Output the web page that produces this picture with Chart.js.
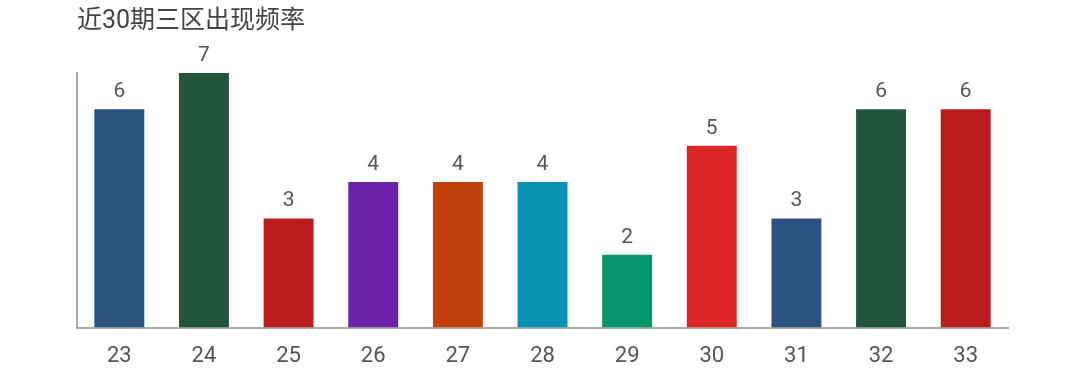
<!DOCTYPE html>
<html>
<head>
<meta charset="utf-8">
<script src="https://cdn.jsdelivr.net/npm/chart.js@4/dist/chart.umd.min.js"></script>
<style>
  html, body { margin: 0; padding: 0; background: #fff; }
  #wrap { width: 1091px; height: 392px; }
</style>
</head>
<body>
<div id="wrap"><canvas id="canvas"></canvas></div>
<script>
var numbers = ["23", "24", "25", "26", "27", "28", "29", "30", "31", "32", "33"];
var counts = [6, 7, 3, 4, 4, 4, 2, 5, 3, 6, 6];
var barColors = ["#2c5282", "#22543d", "#b91c1c", "#6b21a8", "#c2410c", "#0891b2",
                 "#059669", "#dc2626", "#2c5282", "#22543d", "#b91c1c"];

// draw the count above every bar
var valueLabels = {
    id: "valueLabels",
    afterDatasetsDraw: function (chart) {
        var ctx = chart.ctx;
        var meta = chart.getDatasetMeta(0);
        ctx.save();
        ctx.font = "21px Roboto, 'Noto Sans CJK SC'";
        ctx.fillStyle = "#555";
        ctx.textAlign = "center";
        ctx.textBaseline = "alphabetic";
        meta.data.forEach(function (bar, i) {
            ctx.fillText(counts[i], bar.x, bar.y - 12);
        });
        ctx.restore();
    }
};

var ctx = document.getElementById("canvas").getContext("2d");
var myChart = new Chart(ctx, {
    type: "bar",
    data: {
        labels: numbers,
        datasets: [{
            data: counts,
            backgroundColor: barColors,
            categoryPercentage: 1,
            barPercentage: 0.59
        }]
    },
    options: {
        responsive: true,
        maintainAspectRatio: false,
        animation: false,
        layout: { padding: { left: 77, right: 83, top: 0, bottom: 6 } },
        plugins: {
            legend: { display: false },
            tooltip: { enabled: false },
            title: {
                display: true,
                text: "近30期三区出现频率",
                align: "start",
                color: "#444",
                font: { family: "Roboto, 'Noto Sans CJK SC'", size: 25, weight: "normal" },
                padding: { top: 7, bottom: 36 }
            }
        },
        scales: {
            x: {
                grid: { display: false, drawTicks: false },
                border: { display: true, color: "#aaa", width: 2 },
                ticks: {
                    color: "#555",
                    padding: 16,
                    font: { family: "Roboto", size: 22 }
                }
            },
            y: {
                min: 0,
                max: 7,
                grid: { display: false, drawTicks: false },
                border: { display: true, color: "#aaa", width: 2 },
                ticks: { display: false }
            }
        }
    },
    plugins: [valueLabels]
});
</script>
</body>
</html>
